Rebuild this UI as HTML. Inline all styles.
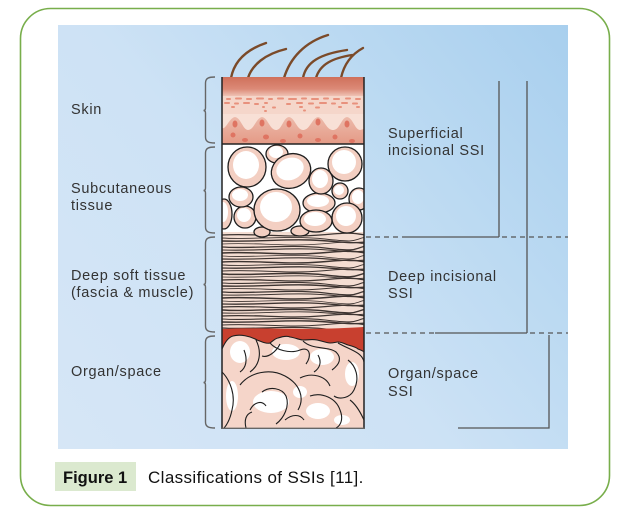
<!DOCTYPE html>
<html><head><meta charset="utf-8"><style>
html,body{margin:0;padding:0;background:#fff;width:619px;height:520px;overflow:hidden}
svg{display:block}
.lb{font-family:"Liberation Sans",Arial,sans-serif;font-size:14.5px;letter-spacing:0.7px;fill:#333}
</style></head><body>
<svg width="619" height="520" viewBox="0 0 619 520" xmlns="http://www.w3.org/2000/svg">
<defs>
<linearGradient id="bg" x1="568" y1="25" x2="58" y2="449" gradientUnits="userSpaceOnUse">
<stop offset="0" stop-color="#a8cfee"/><stop offset="0.3" stop-color="#bcdaf2"/><stop offset="0.55" stop-color="#cde2f5"/><stop offset="1" stop-color="#d6e6f6"/>
</linearGradient>
<linearGradient id="sk" x1="0" y1="77" x2="0" y2="97" gradientUnits="userSpaceOnUse">
<stop offset="0" stop-color="#cf705b"/><stop offset="0.6" stop-color="#dc8a77"/><stop offset="1" stop-color="#f2cabd"/>
</linearGradient>
<linearGradient id="sk2" x1="0" y1="115" x2="0" y2="144" gradientUnits="userSpaceOnUse">
<stop offset="0" stop-color="#edbcad"/><stop offset="1" stop-color="#e49a86"/>
</linearGradient>
<clipPath id="col"><rect x="222" y="77" width="142" height="351"/></clipPath>
<path id="m1" d="M222,0 C255,-2 285,3 320,0 S350,-2 366,0"/>
<path id="m2" d="M222,0 C250,2 290,-3 325,1 S352,2 366,-1"/>
<path id="m3" d="M222,0 C260,1 280,-2 310,-1 S345,3 366,1"/>
</defs>

<rect x="20.5" y="8.5" width="589" height="497" rx="30" ry="30" fill="#fff" stroke="#78ae4b" stroke-width="1.6"/>
<rect x="58" y="25" width="510" height="424" fill="url(#bg)"/>

<!-- hairs -->
<g fill="none" stroke="#7b4a29" stroke-width="2.4" stroke-linecap="round">
<path d="M231,78 C234,62 245,50 266,43"/>
<path d="M248,78 C252,65 265,54 286,49"/>
<path d="M284,78 C290,58 305,42 328,35"/>
<path d="M303,78 C306,62 320,54 347,50"/>
<path d="M316,78 C320,64 333,58 352,55"/>
<path d="M341,78 C344,64 352,54 363,48"/>
</g>

<g clip-path="url(#col)">
<!-- skin -->
<rect x="222" y="77" width="142" height="20" fill="url(#sk)"/>
<rect x="222" y="96" width="142" height="20" fill="#f5d6ca"/>
<g fill="#e8917d">
<rect x="226" y="98" width="5" height="2" rx="1"/><rect x="235" y="97.5" width="7" height="2" rx="1"/><rect x="246" y="98" width="6" height="2" rx="1"/><rect x="256" y="97.5" width="8" height="2" rx="1"/><rect x="268" y="98" width="5" height="2" rx="1"/><rect x="277" y="97.5" width="7" height="2" rx="1"/><rect x="288" y="98" width="9" height="2" rx="1"/><rect x="301" y="97.5" width="6" height="2" rx="1"/><rect x="311" y="98" width="8" height="2" rx="1"/><rect x="323" y="97.5" width="6" height="2" rx="1"/><rect x="333" y="98" width="7" height="2" rx="1"/><rect x="345" y="97.5" width="6" height="2" rx="1"/><rect x="355" y="98" width="6" height="2" rx="1"/>
<rect x="224" y="102" width="6" height="2" rx="1"/><rect x="234" y="102.5" width="5" height="2" rx="1"/><rect x="243" y="102" width="7" height="2" rx="1"/><rect x="254" y="103" width="5" height="2" rx="1"/><rect x="264" y="102" width="4" height="2" rx="1"/><rect x="286" y="103" width="5" height="2" rx="1"/><rect x="296" y="102" width="7" height="2" rx="1"/><rect x="308" y="102.5" width="6" height="2" rx="1"/><rect x="319" y="102" width="8" height="2" rx="1"/><rect x="331" y="102.5" width="5" height="2" rx="1"/><rect x="341" y="102" width="7" height="2" rx="1"/><rect x="352" y="102.5" width="6" height="2" rx="1"/>
<rect x="231" y="106" width="4" height="2" rx="1"/><rect x="262" y="106" width="3" height="2" rx="1"/><rect x="272" y="106.5" width="4" height="2" rx="1"/><rect x="299" y="106" width="4" height="2" rx="1"/><rect x="315" y="106.5" width="5" height="2" rx="1"/><rect x="338" y="106" width="4" height="2" rx="1"/><rect x="356" y="106" width="4" height="2" rx="1"/>
<rect x="264" y="110" width="3" height="2" rx="1"/><rect x="303" y="109.5" width="3" height="2" rx="1"/>
</g>
<rect x="222" y="114" width="142" height="30" fill="#f8e0d6"/>
<path d="M222,144 V128 C226,130 229,118 235,117 C241,118 243,130 248,130 C254,130 256,118 262,117 C268,118 270,130 276,130 C282,130 283,118 289,117 C295,118 297,130 303,130 C310,130 312,118 318,117 C324,118 326,130 333,130 C340,130 341,118 347,117 C353,118 355,130 360,130 L364,129 V144 Z" fill="url(#sk2)"/>
<g fill="#df7462">
<ellipse cx="235" cy="124" rx="2.5" ry="3.5"/><ellipse cx="262" cy="123" rx="2.5" ry="3.5"/><ellipse cx="289" cy="124" rx="2.5" ry="3.5"/><ellipse cx="318" cy="122" rx="2.5" ry="3.5"/><ellipse cx="347" cy="124" rx="2.5" ry="3.5"/>
<ellipse cx="233" cy="135" rx="2.5" ry="2.5"/><ellipse cx="245" cy="140" rx="3" ry="2"/><ellipse cx="266" cy="137" rx="3" ry="2.5"/><ellipse cx="283" cy="141" rx="3" ry="2"/><ellipse cx="300" cy="136" rx="2.5" ry="2.5"/><ellipse cx="318" cy="140" rx="3" ry="2"/><ellipse cx="335" cy="137" rx="2.5" ry="2.5"/><ellipse cx="352" cy="141" rx="3" ry="2"/>
</g>

<!-- fat -->
<rect x="222" y="144" width="142" height="92" fill="#fff"/>
<!-- muscle -->
<rect x="222" y="232" width="142" height="100" fill="#f4ddd2"/>
<g fill="none" stroke="#3d3431">
<use href="#m1" transform="translate(0,235)" stroke-width="1.3"/>
<use href="#m2" transform="translate(0,238)" stroke-width="0.9"/>
<use href="#m3" transform="translate(0,241)" stroke-width="1.4"/>
<use href="#m1" transform="translate(0,244)" stroke-width="0.8"/>
<use href="#m2" transform="translate(0,247)" stroke-width="1.3"/>
<use href="#m3" transform="translate(0,250)" stroke-width="1.1"/>
<use href="#m1" transform="translate(0,253)" stroke-width="1.5"/>
<use href="#m2" transform="translate(0,256)" stroke-width="0.8"/>
<use href="#m3" transform="translate(0,259)" stroke-width="1.2"/>
<use href="#m1" transform="translate(0,262)" stroke-width="1.4"/>
<use href="#m2" transform="translate(0,265)" stroke-width="0.9"/>
<use href="#m3" transform="translate(0,268)" stroke-width="1.3"/>
<use href="#m1" transform="translate(0,271)" stroke-width="1.0"/>
<use href="#m2" transform="translate(0,274)" stroke-width="1.5"/>
<use href="#m3" transform="translate(0,277)" stroke-width="0.8"/>
<use href="#m1" transform="translate(0,280)" stroke-width="1.3"/>
<use href="#m2" transform="translate(0,283)" stroke-width="1.1"/>
<use href="#m3" transform="translate(0,286)" stroke-width="1.4"/>
<use href="#m1" transform="translate(0,289)" stroke-width="0.9"/>
<use href="#m2" transform="translate(0,292)" stroke-width="1.3"/>
<use href="#m3" transform="translate(0,295)" stroke-width="1.0"/>
<use href="#m1" transform="translate(0,298)" stroke-width="1.5"/>
<use href="#m2" transform="translate(0,301)" stroke-width="0.8"/>
<use href="#m3" transform="translate(0,304)" stroke-width="1.3"/>
<use href="#m1" transform="translate(0,307)" stroke-width="1.2"/>
<use href="#m2" transform="translate(0,310)" stroke-width="1.4"/>
<use href="#m3" transform="translate(0,313)" stroke-width="0.9"/>
<use href="#m1" transform="translate(0,316)" stroke-width="1.3"/>
<use href="#m2" transform="translate(0,319)" stroke-width="1.1"/>
<use href="#m3" transform="translate(0,322)" stroke-width="1.4"/>
<use href="#m1" transform="translate(0,325)" stroke-width="1.0"/>
<use href="#m2" transform="translate(0,328)" stroke-width="1.3"/>
</g>
<!-- fat cells -->
<g stroke="#1e1e1e" stroke-width="1.3" fill="#f3cfc2">
<ellipse cx="224" cy="214" rx="8" ry="15"/>
<ellipse cx="262" cy="232" rx="8" ry="5"/>
<ellipse cx="300" cy="231" rx="9" ry="5"/>
<ellipse cx="245" cy="217" rx="11" ry="11"/>
<ellipse cx="241" cy="197" rx="12" ry="10"/>
<ellipse cx="340" cy="191" rx="8" ry="8"/>
<ellipse cx="359" cy="199" rx="10" ry="11"/>
<ellipse cx="319" cy="203" rx="16" ry="10"/>
<ellipse cx="316" cy="221" rx="16" ry="11"/>
<ellipse cx="347" cy="218" rx="15" ry="15"/>
<ellipse cx="321" cy="181" rx="12" ry="13"/>
<ellipse cx="277" cy="154" rx="11" ry="9"/>
<ellipse cx="247" cy="167" rx="19" ry="20"/>
<ellipse cx="291" cy="171" rx="20" ry="17" transform="rotate(-20 291 171)"/>
<ellipse cx="345" cy="164" rx="17" ry="17"/>
<ellipse cx="277" cy="210" rx="23" ry="21"/>
</g>
<g fill="#fff">
<ellipse cx="223" cy="212" rx="5" ry="10"/>
<ellipse cx="244" cy="215" rx="7" ry="7"/>
<ellipse cx="240" cy="195" rx="8" ry="6"/>
<ellipse cx="339" cy="190" rx="5" ry="5"/>
<ellipse cx="358" cy="197" rx="6" ry="7"/>
<ellipse cx="318" cy="201" rx="11" ry="6"/>
<ellipse cx="315" cy="219" rx="11" ry="7"/>
<ellipse cx="346" cy="216" rx="10" ry="10"/>
<ellipse cx="320" cy="179" rx="8" ry="9"/>
<ellipse cx="276" cy="152" rx="7" ry="6"/>
<ellipse cx="246" cy="165" rx="13" ry="14"/>
<ellipse cx="290" cy="169" rx="14" ry="11" transform="rotate(-20 290 169)"/>
<ellipse cx="344" cy="162" rx="12" ry="12"/>
<ellipse cx="276" cy="207" rx="16" ry="15"/>
</g>

<!-- red layer -->
<path d="M222,329 C260,327 300,331 364,327 V356 H222 Z" fill="#c8402f"/>
<!-- organ -->
<path d="M222,349 C225,342 229,337 233,336 C240,334 250,336 257,340 C262,342 267,344 270,343 C274,340 276,338 278,338 C284,336 288,336 290,337 C296,338 300,340 303,340 C308,340 312,339 317,340 C322,341 327,343 330,343 C334,343 336,342 338,342 C342,342 345,344 348,345 C352,346 356,347 358,349 C361,350 363,351 364,352 V428 H222 Z" fill="#f5d5c9"/>
<g fill="#fff">
<ellipse cx="240" cy="352" rx="10" ry="11"/>
<ellipse cx="286" cy="352" rx="14" ry="8"/>
<ellipse cx="322" cy="357" rx="12" ry="8"/>
<ellipse cx="352" cy="374" rx="7" ry="12"/>
<ellipse cx="271" cy="402" rx="18" ry="11"/>
<ellipse cx="232" cy="396" rx="6" ry="15"/>
<ellipse cx="318" cy="411" rx="12" ry="8"/>
<ellipse cx="300" cy="392" rx="7" ry="6"/>
<ellipse cx="342" cy="420" rx="8" ry="5"/>
</g>
<g fill="none" stroke="#1e1e1e" stroke-width="1.1">
<path d="M222,349 C225,342 229,337 233,336 C240,334 250,336 257,340 C262,342 267,344 270,343 C274,340 276,338 278,338 C284,336 288,336 290,337 C296,338 300,340 303,340 C308,340 312,339 317,340 C322,341 327,343 330,343 C334,343 336,342 338,342 C342,342 345,344 348,345 C352,346 356,347 358,349 C361,350 363,351 364,352"/>
<path d="M256,340 C262,352 260,365 250,372"/>
<path d="M244,350 C248,360 246,368 240,372"/>
<path d="M270,343 C276,350 290,354 300,350 C310,346 312,356 306,364"/>
<path d="M303,341 C312,350 328,346 336,352 C342,358 340,364 332,370"/>
<path d="M338,343 C350,350 362,352 364,362"/>
<path d="M348,360 C356,366 360,378 354,390 C350,398 340,400 334,396"/>
<path d="M222,372 C230,380 236,395 232,410 C230,420 226,426 224,428"/>
<path d="M240,385 C250,372 270,368 285,376 C300,384 305,398 298,410"/>
<path d="M262,392 C270,386 282,388 286,396 C290,406 284,418 276,424"/>
<path d="M250,410 C254,402 262,400 266,406"/>
<path d="M300,378 C312,372 326,376 330,386"/>
<path d="M310,396 C322,392 336,398 340,410 C344,420 340,426 336,428"/>
<path d="M350,400 C358,406 362,416 364,420"/>
<path d="M246,428 C244,420 246,414 252,412"/>
<path d="M285,420 C292,414 300,414 304,420"/>
<path d="M280,344 C276,352 268,358 262,356"/>
<path d="M318,355 C322,362 320,368 314,372"/>
</g>
</g>
<!-- column outline -->
<g stroke="#222" stroke-width="1.5" fill="none">
<line x1="222" y1="77" x2="222" y2="428"/>
<line x1="364" y1="77" x2="364" y2="428"/>
<line x1="222" y1="144" x2="364" y2="144"/>
</g>
<line x1="221" y1="428.3" x2="365" y2="428.3" stroke="#666" stroke-width="1.3"/>

<!-- braces -->
<g fill="none" stroke="#666" stroke-width="1.4">
<path d="M215,77 C209,77 205.5,78 205.5,83 V108 C205.5,110 204.5,110.5 203.5,110.5 C204.5,110.5 205.5,111 205.5,113 V137 C205.5,142 209,143 215,143"/>
<path d="M215,147 C209,147 205.5,148 205.5,153 V188 C205.5,190 204.5,190.5 203.5,190.5 C204.5,190.5 205.5,191 205.5,193 V227 C205.5,232 209,233 215,233"/>
<path d="M215,237 C209,237 205.5,238 205.5,243 V282 C205.5,284 204.5,284.5 203.5,284.5 C204.5,284.5 205.5,285 205.5,287 V326 C205.5,331 209,332 215,332"/>
<path d="M215,336 C209,336 205.5,337 205.5,342 V380 C205.5,382 204.5,382.5 203.5,382.5 C204.5,382.5 205.5,383 205.5,385 V422 C205.5,427 209,428 215,428"/>
</g>

<!-- right lines -->
<g stroke="#555" stroke-width="1.3" fill="none">
<line x1="499" y1="81" x2="499" y2="237"/>
<line x1="527" y1="81" x2="527" y2="333"/>
<line x1="405" y1="237" x2="499" y2="237"/>
<line x1="435" y1="333" x2="527" y2="333"/>
<path d="M549,335 V428 H458"/>
<g stroke-dasharray="5,4">
<line x1="366" y1="237" x2="405" y2="237"/>
<line x1="502" y1="237" x2="568" y2="237"/>
<line x1="366" y1="333" x2="435" y2="333"/>
<line x1="530" y1="333" x2="568" y2="333"/>
</g>
</g>

<!-- labels -->
<text class="lb" x="71" y="114">Skin</text>
<text class="lb" x="71" y="193">Subcutaneous</text>
<text class="lb" x="71" y="210">tissue</text>
<text class="lb" x="71" y="280">Deep soft tissue</text>
<text class="lb" x="71" y="297">(fascia &amp; muscle)</text>
<text class="lb" x="71" y="376">Organ/space</text>
<text class="lb" x="388" y="138">Superficial</text>
<text class="lb" x="388" y="155">incisional SSI</text>
<text class="lb" x="388" y="281">Deep incisional</text>
<text class="lb" x="388" y="298">SSI</text>
<text class="lb" x="388" y="378">Organ/space</text>
<text class="lb" x="388" y="396">SSI</text>

<!-- caption -->
<rect x="55" y="462" width="81" height="29" fill="#dbe9cf"/>
<text x="63" y="483" font-family="Liberation Sans, Arial, sans-serif" font-size="16.5" font-weight="bold" fill="#111">Figure 1</text>
<text x="148" y="483" font-family="Liberation Sans, Arial, sans-serif" font-size="17" letter-spacing="0.38" fill="#111">Classifications of SSIs [11].</text>
</svg>
</body></html>
